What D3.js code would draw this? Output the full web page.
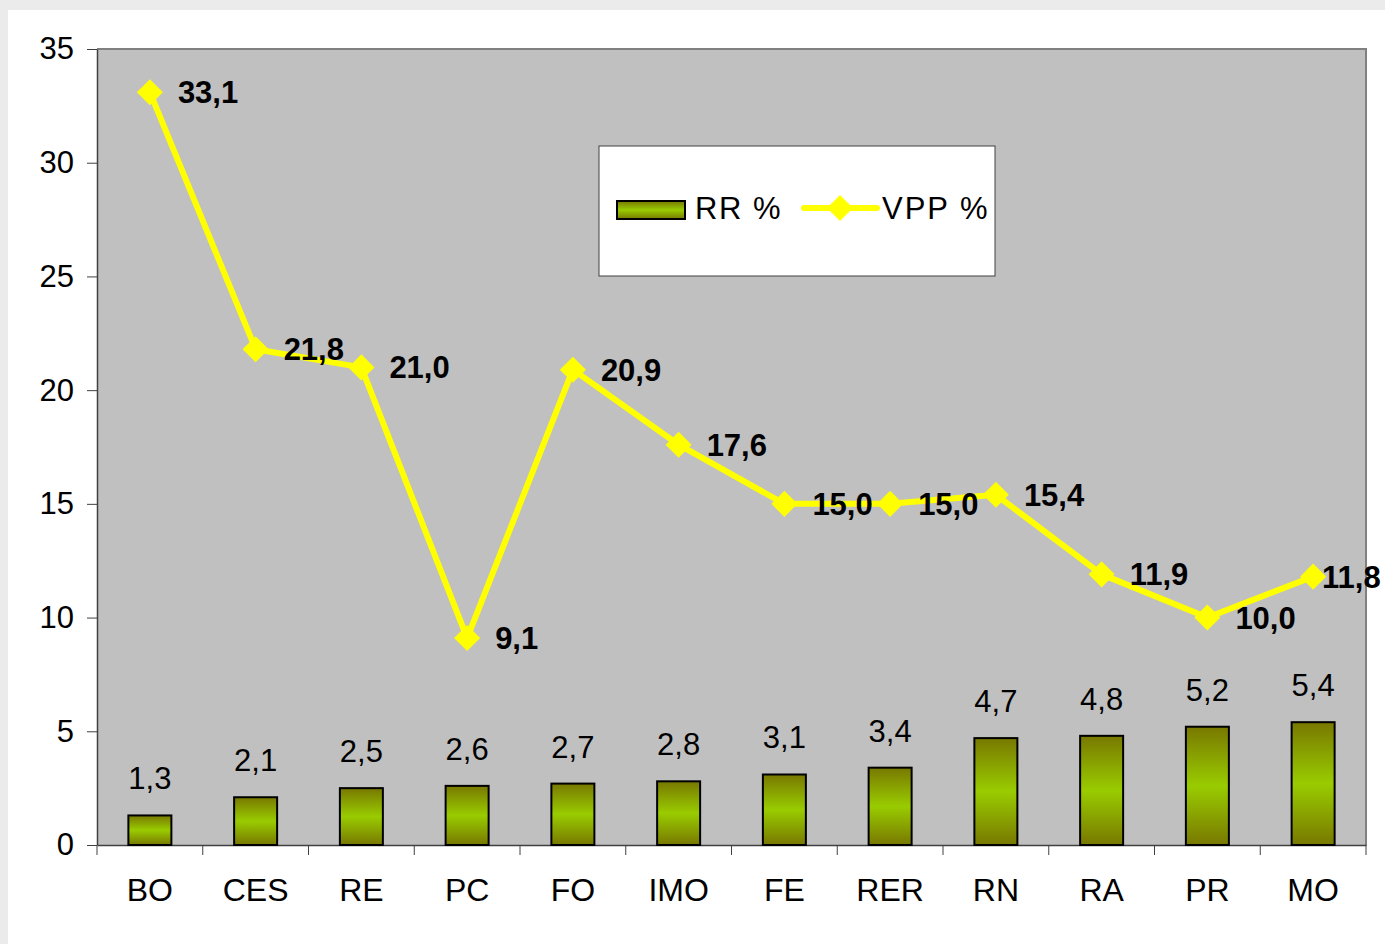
<!DOCTYPE html>
<html>
<head>
<meta charset="utf-8">
<script src="https://cdn.jsdelivr.net/npm/d3@7"></script>
<style>
  body { margin: 0; background: #ebebeb; }
  svg { display: block; font-family: "Liberation Sans", Arial, sans-serif; }
</style>
</head>
<body>
<svg width="1385" height="944"></svg>
<script>
// data
var categories = ['BO', 'CES', 'RE', 'PC', 'FO', 'IMO', 'FE', 'RER', 'RN', 'RA', 'PR', 'MO'];
var rrValues = [1.3, 2.1, 2.5, 2.6, 2.7, 2.8, 3.1, 3.4, 4.7, 4.8, 5.2, 5.4];
var vppValues = [33.1, 21.8, 21.0, 9.1, 20.9, 17.6, 15.0, 15.0, 15.4, 11.9, 10.0, 11.8];
var yTicks = [0, 5, 10, 15, 20, 25, 30, 35];
var seriesNames = ['RR %', 'VPP %'];

var width = 1385;
var height = 944;
var pLeft = 97, pRight = 1366, pTop = 49, pBottom = 845;

var fmt = function(v){ return v.toFixed(1).replace('.', ','); };

var svg = d3.select('svg');

// white panel
svg.append('rect')
  .attr('x', 8).attr('y', 10)
  .attr('width', width - 8).attr('height', height - 10)
  .attr('fill', '#ffffff');

var x = d3.scaleBand()
  .domain(categories)
  .range([pLeft, pRight]);

var y = d3.scaleLinear()
  .domain([0, 35])
  .range([pBottom, pTop]);

// gradient for the bars
var defs = svg.append('defs');
var grad = defs.append('linearGradient')
  .attr('id', 'barGrad')
  .attr('x1', 0).attr('y1', 0).attr('x2', 0).attr('y2', 1);
grad.append('stop').attr('offset', '0%').attr('stop-color', '#787800');
grad.append('stop').attr('offset', '50%').attr('stop-color', '#99cc00');
grad.append('stop').attr('offset', '100%').attr('stop-color', '#787800');

// plot area
svg.append('rect')
  .attr('x', pLeft).attr('y', pTop)
  .attr('width', pRight - pLeft).attr('height', pBottom - pTop)
  .attr('fill', '#c0c0c0');

svg.append('path')
  .attr('d', 'M' + pLeft + ',' + pTop + 'H' + pRight + 'V' + pBottom)
  .attr('fill', 'none')
  .attr('stroke', '#808080')
  .attr('stroke-width', 2);

// y axis
var yAxis = svg.append('g')
  .attr('transform', 'translate(' + pLeft + ',0)')
  .call(d3.axisLeft(y).tickValues(yTicks).tickSize(10).tickSizeOuter(0).tickPadding(13));
yAxis.select('.domain').attr('stroke', '#404040').attr('stroke-width', 1.5);
yAxis.selectAll('.tick line').attr('stroke', '#404040');
yAxis.selectAll('text')
  .style('font-size', '31px')
  .style('font-family', '"Liberation Sans", Arial, sans-serif')
  .attr('fill', '#000');

// x axis
var xAxis = svg.append('g')
  .attr('transform', 'translate(0,' + pBottom + ')')
  .call(d3.axisBottom(x).tickSize(0).tickPadding(33).tickSizeOuter(0));
xAxis.select('.domain').attr('stroke', '#404040').attr('stroke-width', 1.5);
xAxis.selectAll('text')
  .style('font-size', '32px')
  .style('font-family', '"Liberation Sans", Arial, sans-serif')
  .attr('fill', '#000');

// tick marks between categories
var sep = categories.map(function(c){ return x(c); }).concat([pRight]);
svg.selectAll('.sep')
  .data(sep)
  .enter()
  .append('line')
    .classed('sep', true)
    .attr('x1', d => d).attr('x2', d => d)
    .attr('y1', pBottom).attr('y2', pBottom + 10)
    .attr('stroke', '#404040')
    .attr('stroke-width', 1);

// bars
var barW = 43;
svg.selectAll('.bar')
  .data(rrValues)
  .enter()
  .append('rect')
    .classed('bar', true)
    .attr('x', (d, i) => x(categories[i]) + x.bandwidth() / 2 - barW / 2)
    .attr('y', d => y(d))
    .attr('width', barW)
    .attr('height', d => pBottom - y(d))
    .attr('fill', 'url(#barGrad)')
    .attr('stroke', '#000')
    .attr('stroke-width', 2);

svg.selectAll('.barlabel')
  .data(rrValues)
  .enter()
  .append('text')
    .classed('barlabel', true)
    .attr('x', (d, i) => x(categories[i]) + x.bandwidth() / 2)
    .attr('y', d => y(d) - 26)
    .attr('text-anchor', 'middle')
    .style('font-size', '31px')
    .text(fmt);

// line
var cx = (d, i) => x(categories[i]) + x.bandwidth() / 2;
var line = d3.line()
  .x(cx)
  .y(d => y(d));

svg.append('path')
  .datum(vppValues)
  .attr('d', line)
  .attr('fill', 'none')
  .attr('stroke', '#ffff00')
  .attr('stroke-width', 6)
  .attr('stroke-linejoin', 'round');

var diamond = d3.symbol().type(d3.symbolSquare).size(340);
svg.selectAll('.marker')
  .data(vppValues)
  .enter()
  .append('path')
    .classed('marker', true)
    .attr('d', diamond)
    .attr('transform', (d, i) => 'translate(' + cx(d, i) + ',' + y(d) + ') rotate(45)')
    .attr('fill', '#ffff00');

svg.selectAll('.linelabel')
  .data(vppValues)
  .enter()
  .append('text')
    .classed('linelabel', true)
    .attr('x', function(d, i){
      var px = cx(d, i) + 28;
      return Math.min(px, width - 63);
    })
    .attr('y', d => y(d) + 11)
    .style('font-size', '31px')
    .style('font-weight', 'bold')
    .text(fmt);

// legend
var lg = svg.append('g');
lg.append('rect')
  .attr('x', 599).attr('y', 146)
  .attr('width', 396).attr('height', 130)
  .attr('fill', '#fff')
  .attr('stroke', '#404040')
  .attr('stroke-width', 1);

lg.append('rect')
  .attr('x', 617).attr('y', 201)
  .attr('width', 68).attr('height', 18)
  .attr('fill', 'url(#barGrad)')
  .attr('stroke', '#000')
  .attr('stroke-width', 2);
lg.append('text')
  .attr('x', 695).attr('y', 219)
  .style('font-size', '31px')
  .style('letter-spacing', '1.5px')
  .text(seriesNames[0]);

lg.append('line')
  .attr('x1', 804).attr('x2', 877)
  .attr('y1', 208).attr('y2', 208)
  .attr('stroke', '#ffff00')
  .attr('stroke-width', 6)
  .attr('stroke-linecap', 'round');
lg.append('path')
  .attr('d', diamond)
  .attr('transform', 'translate(840,208) rotate(45)')
  .attr('fill', '#ffff00');
lg.append('text')
  .attr('x', 882).attr('y', 219)
  .style('font-size', '31px')
  .style('letter-spacing', '2px')
  .text(seriesNames[1]);
</script>
</body>
</html>
